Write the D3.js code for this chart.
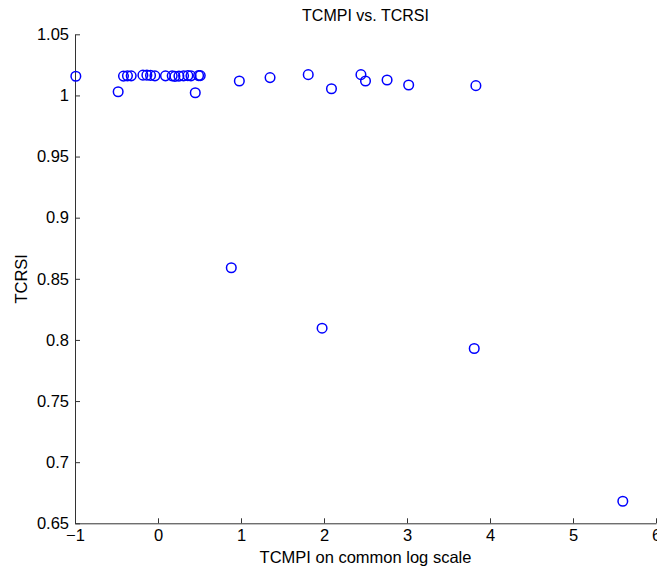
<!DOCTYPE html>
<meta charset="utf-8">
<script src="https://d3js.org/d3.v7.min.js"></script>
<style>
body { margin: 0; background: #fff; }
text { font-family: "Liberation Sans", Arial, sans-serif; }
</style>
<div id="chart"></div>
<script>
// TCMPI (log10) values
var tcmpi = [-0.99, -0.48, -0.416, -0.368, -0.323, -0.182, -0.134, -0.09, -0.037,
  0.09, 0.171, 0.204, 0.252, 0.308, 0.36, 0.397, 0.449, 0.489, 0.509,
  0.98, 1.35, 1.81, 2.09, 2.445, 2.50, 2.76, 3.02, 3.83,
  0.883, 1.977, 3.81, 5.6];
// TCRSI values
var tcrsi = [1.0157, 1.003, 1.0158, 1.016, 1.016, 1.0166, 1.0166, 1.0164, 1.016,
  1.016, 1.016, 1.0156, 1.0158, 1.016, 1.0162, 1.016, 1.0022, 1.0162, 1.0162,
  1.0118, 1.0146, 1.017, 1.0055, 1.017, 1.0118, 1.0126, 1.0085, 1.008,
  0.859, 0.8096, 0.793, 0.668];
var xTicks = [-1, 0, 1, 2, 3, 4, 5, 6];
var yTicks = [0.65, 0.7, 0.75, 0.8, 0.85, 0.9, 0.95, 1, 1.05];

var W = 657, H = 567;
var margin = {top: 34.3, right: 1, bottom: 43.7, left: 75};
var width = W - margin.left - margin.right,
    height = H - margin.top - margin.bottom;

var svg = d3.select("#chart").append("svg")
    .attr("width", W).attr("height", H);
var g = svg.append("g")
    .attr("transform", "translate(" + margin.left + "," + margin.top + ")");

var x = d3.scaleLinear().domain([-1, 6]).range([0, width]);
var y = d3.scaleLinear().domain([0.65, 1.05]).range([height, 0]);

// axes, ticks pointing inward like matlab
g.append("g")
    .attr("transform", "translate(0," + height + ")")
    .call(d3.axisBottom(x).tickValues(xTicks).tickSizeInner(-5).tickSizeOuter(0)
      .tickPadding(6).tickFormat(function(d) { return d < 0 ? "\u2212" + Math.abs(d) : d; }));
g.append("g")
    .call(d3.axisLeft(y).tickValues(yTicks).tickSizeInner(-5).tickSizeOuter(0)
      .tickPadding(6).tickFormat(function(d) { return +d.toFixed(2); }));

g.selectAll(".domain").attr("stroke", "#333").attr("stroke-width", 1);
g.selectAll(".tick line").attr("stroke", "#333");
g.selectAll(".tick text").attr("font-size", 16.5).attr("fill", "#000")
  .attr("font-family", "Liberation Sans, Arial, sans-serif");

// points
g.selectAll("circle.pt")
  .data(tcmpi.map(function(d, i) { return [d, tcrsi[i]]; }))
  .enter().append("circle")
    .attr("class", "pt")
    .attr("cx", function(d) { return x(d[0]); })
    .attr("cy", function(d) { return y(d[1]); })
    .attr("r", 4.8)
    .attr("fill", "none")
    .attr("stroke", "#0000ff")
    .attr("stroke-width", 1.5);

// title + labels
svg.append("text")
  .attr("x", margin.left + width / 2).attr("y", 21)
  .attr("text-anchor", "middle").attr("font-size", 16)
  .text("TCMPI vs. TCRSI");

svg.append("text")
  .attr("x", margin.left + width / 2).attr("y", 563)
  .attr("text-anchor", "middle").attr("font-size", 16.5)
  .text("TCMPI on common log scale");

svg.append("text")
  .attr("transform", "translate(26.5," + (margin.top + height / 2) + ") rotate(-90)")
  .attr("text-anchor", "middle").attr("font-size", 16.5)
  .text("TCRSI");
</script>
